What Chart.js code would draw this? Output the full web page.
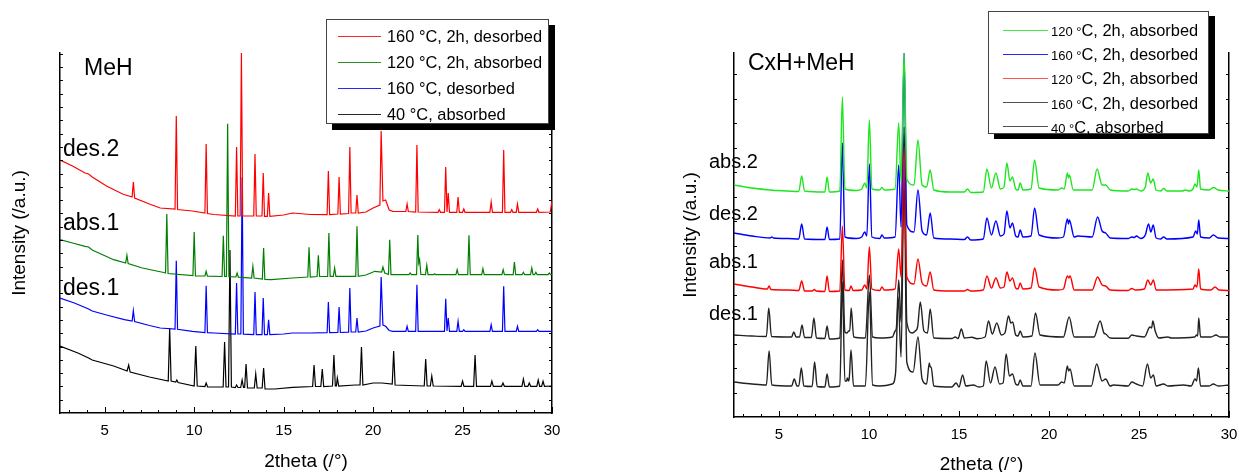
<!DOCTYPE html>
<html><head><meta charset="utf-8">
<script src="https://cdn.jsdelivr.net/npm/chart.js@4"></script>
<style>
html,body{margin:0;padding:0;background:#fff}
body{width:1239px;height:472px;overflow:hidden;position:relative;font-family:"Liberation Sans",Arial,sans-serif;color:#000}
.cv{position:absolute;top:0}
.lab{position:absolute;white-space:nowrap;line-height:1}
.leg{position:absolute;background:#fff;border:1px solid #444;box-sizing:border-box;z-index:5}
.row{position:absolute;left:0;right:0;white-space:nowrap}
.row .ln{position:absolute}
.row .tx{position:absolute}
.s{font-size:13px}
</style>
</head><body>
<div class="cv" style="left:0;width:572px;height:473px"><canvas id="cl"></canvas></div>
<div class="cv" style="left:670px;width:579px;height:476px"><canvas id="cr"></canvas></div>
<div id="legL" class="leg" style="left:326px;top:19px;width:223px;height:105px;box-shadow:6px 6px 0 #000"></div>
<div id="legR" class="leg" style="left:988px;top:11px;width:221px;height:123px;box-shadow:6px 5px 0 #000"></div>
<div class="lab" style="left:84px;top:56px;font-size:23px">MeH</div>
<div class="lab" style="left:748px;top:51px;font-size:23px">CxH+MeH</div>
<div id="labsL"></div><div id="labsR"></div>
<script>
// ---------- tick labels ----------
const xTickValues = [5, 10, 15, 20, 25, 30];

// ---------- MeH panel (left) ----------
const mehLabels = ['160 °C, 2h, desorbed', '120 °C, 2h, absorbed', '160 °C, desorbed', '40 °C, absorbed'];
const mehTraceNames = ['des.2', 'abs.1', 'des.1'];

const mehDes2 = [[2.5,253],[3.2,247],[3.9,240],[4.1,239],[4.3,236],[5.1,227],[6.0,219],[6.53,216],[6.6,231],[6.67,215],[7.5,209],[8.1,205],[8.93,204],[9.0,297],[9.07,203.5],[9.9,202],[10.6,200],[10.67,269],[10.74,199.5],[11.1,198.5],[12.3,197],[12.37,266],[12.44,197],[12.57,197],[12.64,360],[12.71,197],[13.33,197],[13.4,259],[13.47,197],[13.79,197],[13.86,240],[13.93,196.7],[14.09,196.7],[14.16,220],[14.23,196.7],[15.0,198],[15.5,200],[16.5,198.5],[17.43,198.3],[17.5,242],[17.57,198.3],[18.03,199],[18.1,236],[18.17,199],[18.63,199.5],[18.7,266],[18.77,200],[19.03,200],[19.1,218],[19.17,200],[19.6,201],[20.0,205],[20.38,208],[20.45,282],[20.55,212],[20.7,213],[20.9,203],[21.1,201.7],[21.83,201.5],[21.9,209],[21.97,201.5],[22.38,201],[22.45,268],[22.52,201],[23.63,200.7],[23.7,203.3],[23.77,200.7],[23.99,200.7],[24.06,246],[24.13,201],[24.2,220],[24.27,200.7],[24.68,200.7],[24.75,216],[24.82,200.7],[25.0,200.7],[25.07,204],[25.14,200.7],[26.53,200.7],[26.6,211],[26.67,200.7],[27.23,200.7],[27.3,263],[27.37,200.7],[27.68,200.7],[27.75,203.3],[27.82,200.7],[28.0,200.7],[28.07,209],[28.14,200.7],[29.13,200.7],[29.2,204],[29.27,200.7],[29.9,201],[30,212]];

const mehAbs1 = [[2.5,173.3],[3.2,170],[3.9,166.7],[4.1,166],[4.3,163],[5.5,153.3],[6.17,150],[6.24,157.7],[6.31,149.5],[7.1,145],[8.3,140.5],[8.4,140],[8.47,199],[8.54,139.5],[9.93,137.3],[10.0,181],[10.07,137.2],[10.6,137],[10.67,141.7],[10.74,136.8],[11.56,136.5],[11.63,177.3],[11.7,136.5],[11.8,136.5],[11.87,289.3],[11.94,136.3],[12.33,136],[12.4,140],[12.47,135.8],[13.21,135],[13.28,146.7],[13.35,135],[13.81,134],[13.88,165],[13.95,133.5],[14.3,133.3],[15.5,135],[16.35,136],[16.42,165.7],[16.49,136],[16.87,136.5],[16.94,157.7],[17.01,136.5],[17.46,136.7],[17.53,180],[17.6,136.7],[17.78,136.7],[17.85,145],[17.92,136.7],[19.03,136.7],[19.1,186.7],[19.17,136.7],[19.6,138],[20.1,141.7],[20.48,141],[20.55,146],[20.65,140],[20.86,138.5],[20.93,173.3],[21.0,138.3],[22.0,138.3],[22.07,140],[22.14,138.3],[22.43,138.3],[22.5,178],[22.55,150],[22.6,153.3],[22.67,138.5],[22.93,138.3],[23.0,147.7],[23.07,138.3],[23.37,138.3],[23.44,139.3],[23.51,138.3],[24.63,138.3],[24.7,143.3],[24.77,138.3],[25.29,138.3],[25.36,177.7],[25.43,138.3],[26.07,138.3],[26.14,144.3],[26.21,138.3],[27.2,138.3],[27.27,143.3],[27.34,138.3],[27.83,138.3],[27.9,151],[27.97,138.3],[28.33,138.3],[28.4,140.7],[28.47,138.3],[28.8,138.3],[28.87,145],[28.94,138.3],[29.03,138.3],[29.1,140.7],[29.17,138.3],[29.78,138.3],[29.85,140],[29.92,138.3],[30,138.3]];

const mehDes1 = [[2.5,115],[3.3,110],[4.1,104],[4.3,102],[5.2,97.5],[6.1,93.3],[6.53,92],[6.6,102.3],[6.67,91.5],[7.5,87.5],[8.1,85],[8.93,84],[9.0,152.3],[9.07,83.7],[9.9,81.7],[10.6,80.5],[10.67,127.3],[10.74,80.3],[11.1,80],[12.3,79],[12.37,130],[12.44,79],[12.61,79],[12.68,235.7],[12.75,78.8],[13.33,78.3],[13.4,121],[13.47,78.3],[13.79,78.3],[13.86,115],[13.93,78.3],[14.09,78.3],[14.16,93.3],[14.23,78.3],[15.0,79],[15.5,80],[16.5,80],[17.43,80.3],[17.5,111],[17.57,80.3],[18.03,80.5],[18.1,106],[18.17,80.5],[18.63,80.8],[18.7,125],[18.77,81],[19.03,81],[19.1,95],[19.17,81],[19.6,82],[20.0,85],[20.38,87],[20.45,136],[20.55,88],[20.7,86.7],[20.9,82.5],[21.1,81.7],[21.83,81.7],[21.9,86.7],[21.97,81.7],[22.38,81.7],[22.45,128.3],[22.52,81.7],[23.99,81.7],[24.06,114.3],[24.13,82],[24.2,95],[24.27,81.7],[24.68,81.7],[24.75,91.7],[24.82,81.7],[25.0,81.7],[25.07,83.3],[25.14,81.7],[26.53,81.7],[26.6,88.3],[26.67,81.7],[27.23,81.7],[27.3,126.7],[27.37,81.7],[28.0,81.7],[28.07,86.7],[28.14,81.7],[29.13,81.7],[29.2,83.3],[29.27,81.7],[30,81.7]];

const mehAbs40 = [[2.5,67],[3.5,60],[4.1,55],[4.3,53],[5.5,47],[6.25,42],[6.34,48],[6.42,41],[7.5,36],[8.55,32],[8.63,85],[8.71,32],[8.97,31],[9.03,33],[9.1,30.5],[10.0,27],[10.09,67],[10.17,27],[10.6,26.5],[10.67,30],[10.75,26],[11.62,26],[11.7,71],[11.78,26],[11.92,26],[12.0,163],[12.08,26],[12.3,25.5],[12.37,28],[12.45,25.5],[12.6,25.5],[12.68,33],[12.76,25.5],[12.82,25.5],[12.9,49],[12.98,25],[13.36,25],[13.44,39],[13.52,25],[13.8,25],[13.88,45],[13.96,24],[14.5,24],[15.5,25.7],[16.62,26.5],[16.7,48],[16.78,26.5],[17.08,26.5],[17.16,44],[17.24,26.5],[17.73,27],[17.81,58],[17.89,27],[17.95,27],[18.0,35],[18.08,27],[19.0,28],[19.27,28],[19.35,66],[19.43,28],[20.0,30],[20.5,30],[21.07,29],[21.15,62],[21.23,28],[22.0,27.5],[22.86,27],[22.94,54],[23.02,27],[23.2,27],[23.28,37],[23.36,27],[24.92,26.7],[25.0,32],[25.08,26.7],[25.62,26.7],[25.7,58],[25.78,26.7],[26.56,26.7],[26.64,32],[26.72,26.7],[27.18,26.7],[27.26,30],[27.34,26.7],[28.32,26.7],[28.4,34],[28.48,26.7],[28.65,26.7],[28.73,30],[28.81,26.7],[29.15,26.7],[29.23,33],[29.31,26.7],[29.42,26.7],[29.5,31.7],[29.58,26.7],[30,27]];

// ---------- CxH+MeH panel (right) ----------
const cxLabels = ['120 °C, 2h, absorbed', '160 °C, 2h, desorbed', '120 °C, 2h, absorbed', '160 °C, 2h, desorbed', '40 °C, absorbed'];
const cxTraceNames = ['abs.2', 'des.2', 'abs.1', 'des.1'];

const cxAbs2 = [[2.5,232],[3.5,229],[4.5,227],[5.5,226],[6.1,225.5],[6.26,241],[6.42,226],[7.55,225],[7.67,240],[7.8,225],[8.38,226],[8.52,320],[8.66,228],[9.3,226.5],[9.6,228],[9.76,234],[9.88,229],[10.02,297],[10.16,228],[10.6,227],[10.72,229.5],[10.85,227],[11.45,228],[11.65,294],[11.78,235],[11.95,364],[12.1,238],[12.5,232],[12.72,277],[12.95,232],[13.2,230],[13.4,247],[13.6,227],[14.5,225],[15.3,225],[15.47,228],[15.65,224.5],[16.35,225],[16.55,248],[16.8,229],[17.05,244],[17.3,228],[17.5,230],[17.66,254],[17.83,236],[17.97,240],[18.15,228],[18.28,227],[18.4,234],[18.55,227],[19.0,228],[19.2,257],[19.45,229],[20.5,227],[20.71,229],[20.85,228],[21.02,244],[21.08,239],[21.13,242],[21.35,227],[22.4,227],[22.67,248],[22.95,232],[23.15,232],[23.4,227],[24.4,226],[24.6,228],[24.75,227.5],[24.85,228],[25.1,226],[25.35,230],[25.49,244],[25.65,234],[25.79,238],[25.95,227],[26.2,226],[26.37,228.5],[26.55,226],[27.4,226],[27.58,227],[27.8,226],[28.0,228],[28.11,233],[28.22,230],[28.32,247],[28.42,228],[28.9,227],[29.13,229.5],[29.4,227],[30,226]];

const cxDes2 = [[2.5,184],[3.5,181],[4.5,179],[4.6,180],[4.7,179],[5.5,178.5],[6.1,178],[6.26,193],[6.42,178],[7.55,177.5],[7.67,190],[7.8,177.5],[8.38,178],[8.52,274],[8.66,180],[9.3,178.5],[9.6,180],[9.76,185],[9.88,181],[10.02,253],[10.16,180],[10.6,178.5],[10.72,182],[10.85,179],[11.45,180],[11.65,252],[11.78,190],[11.95,364],[12.1,192],[12.5,185],[12.72,227],[12.95,186],[13.2,182],[13.4,204],[13.6,179],[14.5,178],[15.3,177.5],[15.47,180],[15.65,177],[16.35,178],[16.55,199],[16.8,182],[17.05,196],[17.3,181],[17.5,183],[17.66,206],[17.83,189],[17.97,194],[18.15,181],[18.28,180],[18.4,187],[18.55,180],[19.0,181],[19.2,209],[19.45,182],[20.5,179],[20.8,180],[21.02,198],[21.08,193],[21.13,197],[21.4,180],[21.6,181],[22.4,180],[22.7,200],[22.95,186],[23.15,184],[23.4,179],[24.4,178.5],[24.6,180],[24.75,179.5],[24.85,181],[25.1,178.5],[25.35,182],[25.53,193],[25.66,185],[25.79,192],[25.95,179],[26.2,178],[26.37,180],[26.55,178],[28.0,180],[28.15,186],[28.24,183],[28.32,197],[28.42,180],[28.9,179],[29.13,182],[29.4,179],[30,178.5]];

const cxAbs1 = [[2.5,133],[3.5,130],[4.35,128],[4.45,131],[4.55,127.5],[5.5,127],[6.1,126.5],[6.26,136],[6.42,126],[6.85,126],[6.96,127.5],[7.07,126],[7.55,125.5],[7.67,141],[7.8,125.5],[8.38,126],[8.52,191],[8.66,127],[8.9,126.5],[9.0,131],[9.12,126.5],[9.6,127],[9.76,132],[9.88,128],[10.02,170],[10.16,128],[10.6,126.5],[10.72,130],[10.85,127],[11.45,128],[11.65,168],[11.78,140],[11.95,270],[12.1,140],[12.5,133],[12.72,158],[12.95,134],[13.2,131],[13.4,145],[13.6,127],[14.5,126],[15.3,126],[15.47,127.5],[15.65,126],[16.35,127],[16.55,141],[16.8,129],[17.05,139],[17.3,129],[17.5,130],[17.66,145],[17.83,136],[17.97,139],[18.15,129],[18.28,128],[18.4,134],[18.55,128],[19.0,129],[19.2,149],[19.45,130],[20.5,127],[20.8,128],[21.02,141],[21.1,139],[21.17,141],[21.4,127],[22.4,127],[22.7,140],[22.95,132],[23.15,131],[23.4,127],[24.4,126.5],[24.6,128.5],[24.8,127],[25.3,128],[25.49,137],[25.65,132],[25.8,137],[25.95,127],[28.0,128],[28.11,132],[28.22,130],[28.32,148],[28.42,128],[29.0,127],[29.22,130],[29.45,127],[30,126.5]];

const cxDes1 = [[2.5,82],[3.5,81],[4.3,80.5],[4.43,109],[4.58,80.5],[5.7,80],[5.82,85],[5.95,80],[6.14,80],[6.28,92],[6.42,79.5],[6.8,79.5],[6.94,99],[7.08,79],[7.55,78.5],[7.67,91],[7.8,78],[8.38,79],[8.52,157],[8.66,85],[8.78,84],[8.87,86],[8.93,86],[9.01,109],[9.15,80],[9.8,79],[10.02,142],[10.2,80],[10.6,79],[11.3,80],[11.45,86],[11.52,89],[11.65,137],[11.78,95],[11.95,290],[12.1,95],[12.4,84],[12.57,86],[12.7,90],[12.85,115],[13.05,86],[13.25,84],[13.4,108],[13.6,79],[14.6,78.5],[14.79,80],[14.95,78.5],[15.13,88],[15.3,79],[15.72,79.7],[16.0,78.3],[16.45,80],[16.64,96],[16.85,83],[17.1,94],[17.35,82],[17.55,84],[17.75,101],[17.88,94],[17.98,95],[18.15,82],[18.28,81],[18.4,86],[18.55,80],[19.05,81],[19.25,104],[19.5,82],[20.8,80],[21.12,100],[21.4,80],[22.5,80],[22.84,96],[23.05,84],[23.15,83],[23.4,79],[24.4,78.7],[24.6,82],[24.87,81],[25.3,80],[25.61,90],[25.7,89],[25.77,96],[25.9,86],[26.1,79],[26.6,80],[26.8,79],[28.1,80],[28.2,82],[28.26,81],[28.32,99],[28.42,80],[29.0,80],[29.28,82],[29.5,80],[30,80]];

const cxAbs40 = [[2.5,35],[3.5,33],[4.3,32],[4.45,66],[4.6,32],[5.7,31],[5.85,38],[6.0,31],[6.1,31],[6.24,49],[6.38,31],[6.84,30.5],[6.98,55],[7.12,30.5],[7.55,30],[7.67,43],[7.8,30],[8.38,31],[8.52,135],[8.66,36],[8.75,36],[8.8,39],[8.86,36],[8.9,38],[9.0,67],[9.14,31],[9.8,31],[10.02,125],[10.2,32],[10.6,31],[11.3,33],[11.48,45],[11.62,120],[11.78,60],[11.95,240],[12.1,55],[12.45,45],[12.72,80],[12.95,38],[13.2,33],[13.35,54],[13.4,50],[13.45,50],[13.6,31],[14.6,30],[14.84,34],[15.0,30],[15.2,42],[15.38,31],[15.8,32],[16.1,30],[16.35,31],[16.51,56],[16.75,34],[17.0,50],[17.25,33],[17.45,34],[17.62,63],[17.8,41],[17.97,43],[18.15,33],[18.28,32],[18.4,37],[18.55,31],[19.0,31],[19.22,64],[19.5,32],[20.5,32],[20.71,35],[20.85,34],[21.02,51],[21.09,46],[21.17,48],[21.4,31],[22.35,31],[22.65,53],[22.95,36],[23.15,38],[23.4,31],[23.58,32],[24.4,31],[24.6,35],[24.85,33],[25.2,31],[25.47,53],[25.65,39],[25.8,42],[25.95,31],[26.37,33],[26.6,31],[27.48,32],[27.9,31],[28.11,38],[28.2,36],[28.3,49],[28.42,31],[28.9,31],[29.13,33],[29.4,31],[30,32]];

// ---------- styling ----------
const FONT = '"Liberation Sans", Arial, sans-serif';
const mehColors = ['#ff0000', '#007f00', '#0000ff', '#000000'];
const cxColors = ['#1ee61e', '#0000ff', '#ff0000', '#222222', '#222222'];

const inwardTicks = {
  id: 'inwardTicks',
  afterDraw(chart, args, opts) {
    const {ctx, chartArea: a, scales: {x, y}} = chart;
    ctx.save();
    ctx.strokeStyle = '#000';
    ctx.lineWidth = 1;
    ctx.beginPath();
    for (let v = Math.ceil(x.min); v <= x.max; v++) {
      const px = Math.round(x.getPixelForValue(v)) + 0.5;
      const len = v % 5 === 0 ? 6 : 3;
      ctx.moveTo(px, a.bottom);
      ctx.lineTo(px, a.bottom - len);
    }
    for (let v = opts.yStep; v < y.max; v += opts.yStep) {
      const py = Math.round(y.getPixelForValue(v)) + 0.5;
      ctx.moveTo(a.left, py); ctx.lineTo(a.left + 3, py);
      ctx.moveTo(a.right, py); ctx.lineTo(a.right - 3, py);
    }
    ctx.stroke();
    ctx.restore();
  }
};

function makeChart(id, series, labels, colors, cfg) {
  return new Chart(document.getElementById(id), {
    type: 'line',
    data: {
      datasets: series.map((d, i) => ({
        label: labels[i], data: d, borderColor: colors[i], borderWidth: cfg.lw,
        pointRadius: 0, fill: false,
        tension: 0, cubicInterpolationMode: cfg.smooth ? 'monotone' : 'default'
      }))
    },
    options: {
      responsive: true, maintainAspectRatio: false, animation: false, devicePixelRatio: 1,
      layout: {padding: {top: 53, left: 0, right: 0, bottom: 0}},
      plugins: {legend: {display: false}, tooltip: {enabled: false}, inwardTicks: {yStep: cfg.yStep}},
      scales: {
        x: {
          type: 'linear', min: 2.5, max: 30,
          afterBuildTicks: s => { s.ticks = xTickValues.map(v => ({value: v})); },
          ticks: {font: {family: FONT, size: 15}, color: '#000', padding: 9, maxRotation: 0, autoSkip: false},
          grid: {display: false, drawTicks: false},
          border: {display: true, color: '#000', width: 1.5},
          title: {display: true, text: '2theta (/°)', color: '#000', font: {family: FONT, size: 19}, padding: {top: 0, bottom: 0}},
          afterFit: s => { s.height = cfg.xh; }
        },
        y: {
          type: 'linear', position: 'left', min: 0, max: cfg.ymax,
          ticks: {display: false},
          grid: {display: false, drawTicks: false},
          border: {display: true, color: '#000', width: 1.5},
          title: {display: true, text: 'Intensity (/a.u.)', color: '#000', font: {family: FONT, size: 19}, padding: {top: cfg.tp, bottom: 0}},
          afterFit: s => { s.width = cfg.yw; }
        },
        y2: {
          type: 'linear', position: 'right', min: 0, max: cfg.ymax,
          ticks: {display: false},
          grid: {display: false, drawTicks: false},
          border: {display: true, color: '#000', width: 1.5},
          afterFit: s => { s.width = 20; }
        }
      }
    },
    plugins: [inwardTicks]
  });
}

makeChart('cl', [mehDes2, mehAbs1, mehDes1, mehAbs40], mehLabels, mehColors,
  {lw: 1.2, smooth: false, ymax: 360, xh: 60, yw: 60, tp: 8.6, yStep: 13.3});
makeChart('cr', [cxAbs2, cxDes2, cxAbs1, cxDes1, cxAbs40], cxLabels, cxColors,
  {lw: 1.4, smooth: true, ymax: 364, xh: 59, yw: 64, tp: 9.6, yStep: 24.5});

// ---------- legends ----------
function buildLegend(el, labels, colors, o) {
  labels.forEach((t, i) => {
    const r = document.createElement('div');
    r.className = 'row';
    const c = o.top + o.gap * i;
    r.style.top = (c - 13) + 'px';
    r.style.height = '26px';
    const ln = document.createElement('div');
    ln.className = 'ln';
    ln.style.cssText = `left:${o.lx}px;width:${o.lw}px;top:12.5px;border-top:1.3px solid ${colors[i]};opacity:.85`;
    const tx = document.createElement('div');
    tx.className = 'tx';
    tx.style.cssText = `left:${o.tx}px;top:0;line-height:26px;font-size:${o.fs}px`;
    if (o.small) {
      const m = t.match(/^(\d+ °)(.*)$/);
      tx.innerHTML = `<span class="s">${m[1]}</span>${m[2]}`;
    } else tx.textContent = t;
    r.appendChild(ln); r.appendChild(tx);
    el.appendChild(r);
  });
}
buildLegend(document.getElementById('legL'), mehLabels, mehColors, {top: 16, gap: 26, lx: 11, lw: 43, tx: 60, fs: 16.4, small: false});
buildLegend(document.getElementById('legR'), cxLabels, ['#1ee61e', '#0000ff', '#ff3333', '#333', '#333'], {top: 18, gap: 24.2, lx: 13.5, lw: 45, tx: 62, fs: 16.4, small: true});

// ---------- trace names ----------
function placeNames(el, names, xs, ys, fs) {
  names.forEach((n, i) => {
    const d = document.createElement('div');
    d.className = 'lab';
    d.style.cssText = `left:${xs}px;top:${ys[i] - fs * 0.49}px;font-size:${fs}px`;
    d.textContent = n;
    el.appendChild(d);
  });
}
placeNames(document.getElementById('labsL'), mehTraceNames, 63, [148, 222, 287], 23);
placeNames(document.getElementById('labsR'), cxTraceNames, 709, [161, 213, 261, 313], 20);
</script>
</body></html>
